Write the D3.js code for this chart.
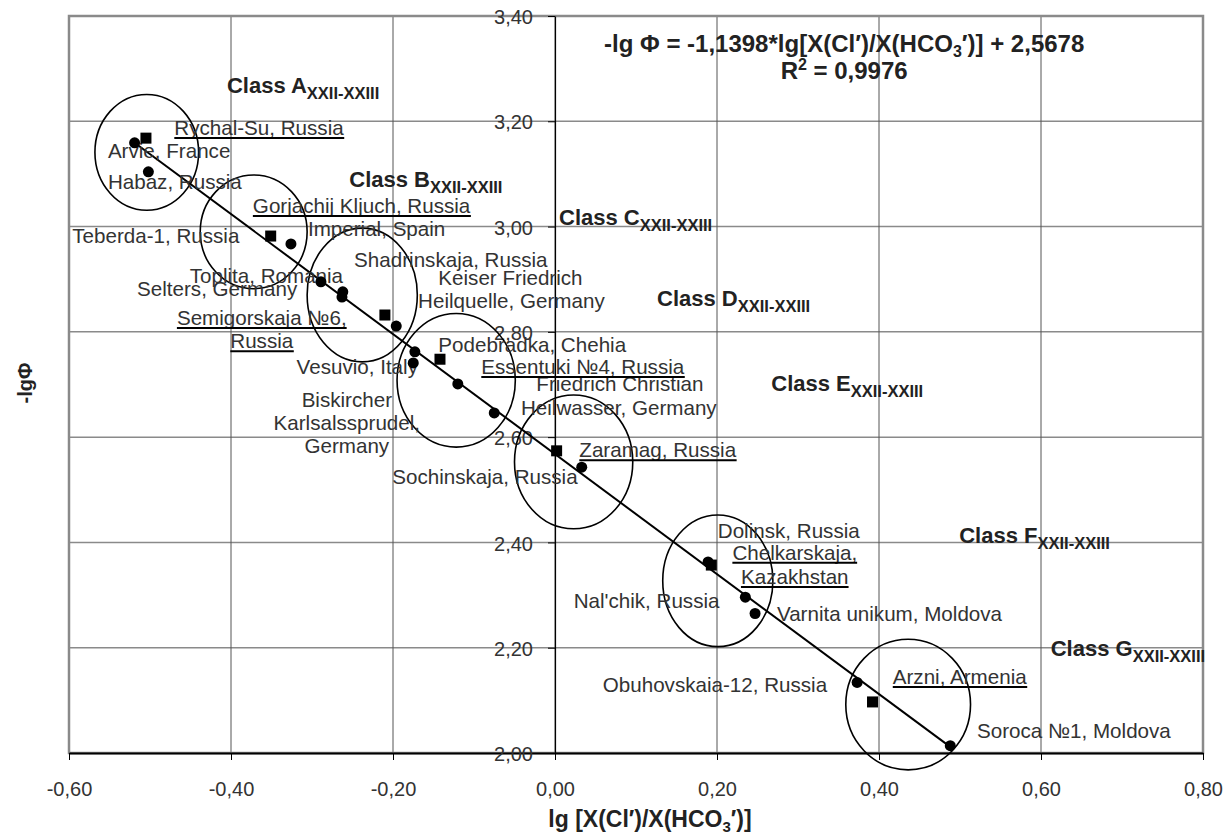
<!DOCTYPE html>
<html>
<head>
<meta charset="utf-8">
<script src="https://cdn.jsdelivr.net/npm/d3@7"></script>
<style>
  body { margin: 0; background: #fff; }
  svg { display: block; font-family: Arial, "Liberation Sans", sans-serif; }
</style>
</head>
<body>
<svg id="chart"></svg>
<script>
const width = 1229;
const height = 838;

// measured points (lg ratio, -lg phi)
const circleX = [-0.519, -0.502, -0.326, -0.289, -0.262, -0.263, -0.196, -0.173, -0.175, -0.120, -0.075, 0.033, 0.189, 0.235, 0.247, 0.373, 0.488];
const circleY = [3.159, 3.104, 2.967, 2.895, 2.876, 2.866, 2.811, 2.762, 2.741, 2.701, 2.646, 2.543, 2.363, 2.296, 2.265, 2.134, 2.014];
const squareX = [-0.505, -0.351, -0.210, -0.142, 0.002, 0.193, 0.392];
const squareY = [3.168, 2.982, 2.832, 2.748, 2.574, 2.357, 2.097];

// trendline from the chart
const slope = -1.1398;
const intercept = 2.5678;

// class clusters (ellipses)
const classNames = ['A', 'B', 'C', 'D', 'E', 'F', 'G'];
const classCX = [-0.504, -0.372, -0.238, -0.122, 0.023, 0.201, 0.436];
const classCY = [3.141, 2.990, 2.870, 2.708, 2.553, 2.327, 2.092];
const classRX = [0.064, 0.066, 0.068, 0.073, 0.073, 0.068, 0.077];
const classRY = [0.110, 0.108, 0.127, 0.127, 0.127, 0.125, 0.124];
const classLabelX = [-0.405, -0.254, 0.005, 0.126, 0.267, 0.499, 0.612];
const classLabelY = [3.254, 3.075, 3.003, 2.849, 2.688, 2.399, 2.184];

// spring names
const labelText = ['Rychal-Su, Russia', 'Arvie, France', 'Habaz, Russia', 'Gorjachij Kljuch, Russia',
  'Imperial, Spain', 'Teberda-1, Russia', 'Shadrinskaja, Russia', 'Toplita, Romania', 'Keiser Friedrich',
  'Selters, Germany', 'Heilquelle, Germany', 'Semigorskaja №6,', 'Russia', 'Podebradka, Chehia',
  'Vesuvio, Italy', 'Essentuki №4, Russia', 'Friedrich Christian', 'Biskircher', 'Heilwasser, Germany',
  'Karlsalssprudel,', 'Germany', 'Zaramag, Russia', 'Sochinskaja, Russia', 'Dolinsk, Russia',
  'Chelkarskaja,', 'Kazakhstan', "Nal'chik, Russia", 'Varnita unikum, Moldova', 'Arzni, Armenia',
  'Obuhovskaia-12, Russia', 'Soroca №1, Moldova'];
const labelX = [-0.470, -0.552, -0.552, -0.373, -0.305, -0.596, -0.248, -0.451, -0.144, -0.516, -0.169,
  -0.362, -0.362, -0.144, -0.319, -0.091, -0.023, -0.257, -0.042, -0.257, -0.257, 0.030, -0.201, 0.201,
  0.296, 0.296, 0.023, 0.274, 0.417, 0.059, 0.521];
const labelY = [3.174, 3.130, 3.071, 3.026, 2.982, 2.969, 2.923, 2.893, 2.889, 2.868, 2.845, 2.813, 2.769,
  2.762, 2.720, 2.720, 2.688, 2.657, 2.642, 2.614, 2.570, 2.562, 2.511, 2.408, 2.367, 2.321, 2.275, 2.251,
  2.131, 2.116, 2.028];
const labelCentered = [0,0,0,0,0,0,0,0,0,0,0,1,1,0,0,0,0,1,0,1,1,0,0,0,1,1,0,0,0,0,0];
const labelUnderline = [1,0,0,1,0,0,0,0,0,0,0,1,1,0,0,1,0,0,0,0,0,1,0,0,1,1,0,0,1,0,0];

const xTickValues = [-0.6, -0.4, -0.2, 0, 0.2, 0.4, 0.6, 0.8];
const yTickValues = [2.0, 2.2, 2.4, 2.6, 2.8, 3.0, 3.2, 3.4];

const loc = d3.formatLocale({decimal: ',', thousands: ' ', grouping: [3], currency: ['', ''], minus: '-'});
const fmt = loc.format('.2f');

const svg = d3.select('#chart').attr('width', width).attr('height', height);

const x = d3.scaleLinear().domain([-0.6, 0.8]).range([69, 1203]);
const y = d3.scaleLinear().domain([2.0, 3.4]).range([753, 16]);

// grid
svg.append('g')
  .selectAll('line')
  .data(yTickValues)
  .enter()
  .append('line')
    .attr('x1', x(-0.6)).attr('x2', x(0.8))
    .attr('y1', d => y(d)).attr('y2', d => y(d))
    .style('stroke', '#8a8a8a')
    .style('stroke-width', 1.5);

svg.append('g')
  .selectAll('line')
  .data(xTickValues)
  .enter()
  .append('line')
    .attr('x1', d => x(d)).attr('x2', d => x(d))
    .attr('y1', y(2.0)).attr('y2', y(3.4))
    .style('stroke', '#555')
    .style('stroke-width', 1);

svg.append('rect')
  .attr('x', x(-0.6)).attr('y', y(3.4))
  .attr('width', x(0.8) - x(-0.6)).attr('height', y(2.0) - y(3.4))
  .style('fill', 'none')
  .style('stroke', '#8a8a8a')
  .style('stroke-width', 2.5);

// axes
const xAxis = svg.append('g')
  .attr('transform', `translate(0,${y(2.0)})`)
  .call(d3.axisBottom(x).tickValues(xTickValues).tickFormat(fmt).tickSize(7).tickPadding(22).tickSizeOuter(0));
const yAxis = svg.append('g')
  .attr('transform', `translate(${x(0)},0)`)
  .call(d3.axisLeft(y).tickValues(yTickValues).tickFormat(fmt).tickSize(7).tickPadding(15).tickSizeOuter(0));

[xAxis, yAxis].forEach(a => {
  a.selectAll('text').style('font-size', '20px').style('fill', '#333').style('font-family', 'Arial, "Liberation Sans", sans-serif');
  a.selectAll('line').style('stroke', '#000');
  a.select('.domain').style('stroke', '#000').style('stroke-width', 1.2);
});
xAxis.select('.domain').style('stroke-width', 2);
yAxis.selectAll('text').attr('dy', '0.38em');

// trendline
svg.append('line')
  .attr('x1', x(d3.min(circleX))).attr('y1', y(slope * d3.min(circleX) + intercept))
  .attr('x2', x(d3.max(circleX))).attr('y2', y(slope * d3.max(circleX) + intercept))
  .style('stroke', '#000')
  .style('stroke-width', 2);

// ellipses
svg.append('g')
  .selectAll('ellipse')
  .data(classNames)
  .enter()
  .append('ellipse')
    .attr('cx', (d, i) => x(classCX[i]))
    .attr('cy', (d, i) => y(classCY[i]))
    .attr('rx', (d, i) => x(classCX[i] + classRX[i]) - x(classCX[i]))
    .attr('ry', (d, i) => y(classCY[i]) - y(classCY[i] + classRY[i]))
    .style('fill', 'none')
    .style('stroke', '#000')
    .style('stroke-width', 1.6);

// labels
const labels = svg.append('g')
  .selectAll('text')
  .data(labelText)
  .enter()
  .append('text')
    .attr('x', (d, i) => x(labelX[i]))
    .attr('y', (d, i) => y(labelY[i]))
    .attr('text-anchor', (d, i) => labelCentered[i] ? 'middle' : 'start')
    .style('font-size', '20.6px')
    .style('fill', '#333')
    .text(d => d);

labels.each(function(d, i) {
  if (!labelUnderline[i]) return;
  const b = this.getBBox();
  svg.append('line')
    .attr('x1', b.x).attr('x2', b.x + b.width)
    .attr('y1', y(labelY[i]) + 3).attr('y2', y(labelY[i]) + 3)
    .style('stroke', '#000')
    .style('stroke-width', 2);
});

// points
svg.append('g')
  .selectAll('circle')
  .data(circleX)
  .enter()
  .append('circle')
    .attr('cx', d => x(d))
    .attr('cy', (d, i) => y(circleY[i]))
    .attr('r', 5.5)
    .style('fill', '#000');

svg.append('g')
  .selectAll('rect')
  .data(squareX)
  .enter()
  .append('rect')
    .attr('x', d => x(d) - 5.5)
    .attr('y', (d, i) => y(squareY[i]) - 5.5)
    .attr('width', 11).attr('height', 11)
    .style('fill', '#000');

// class names
const cls = svg.append('g')
  .selectAll('text')
  .data(classNames)
  .enter()
  .append('text')
    .attr('x', (d, i) => x(classLabelX[i]))
    .attr('y', (d, i) => y(classLabelY[i]))
    .style('font-weight', 'bold')
    .style('font-size', '22px')
    .style('fill', '#222');
cls.append('tspan').text(d => 'Class ' + d);
cls.append('tspan').attr('dy', 6).style('font-size', '16.5px').text('XXII-XXIII');

// trendline equation
const eq = svg.append('text')
  .attr('x', x(0.357)).attr('y', y(3.332))
  .attr('text-anchor', 'middle')
  .style('font-weight', 'bold')
  .style('font-size', '24px')
  .style('fill', '#222');
eq.append('tspan').text('-lg Φ = -1,1398*lg[X(Cl′)/X(HCO');
eq.append('tspan').attr('dy', 5).style('font-size', '16px').text('3');
eq.append('tspan').attr('dy', -5).text('′)] + 2,5678');

const r2 = svg.append('text')
  .attr('x', x(0.357)).attr('y', y(3.280))
  .attr('text-anchor', 'middle')
  .style('font-weight', 'bold')
  .style('font-size', '24px')
  .style('fill', '#222');
r2.append('tspan').text('R');
r2.append('tspan').attr('dy', -9).style('font-size', '16px').text('2');
r2.append('tspan').attr('dy', 9).text(' = 0,9976');

// axis titles
const xt = svg.append('text')
  .attr('x', 650).attr('y', 827)
  .attr('text-anchor', 'middle')
  .style('font-weight', 'bold')
  .style('font-size', '23px')
  .style('fill', '#222');
xt.append('tspan').text('lg [X(Cl′)/X(HCO');
xt.append('tspan').attr('dy', 5).style('font-size', '15px').text('3');
xt.append('tspan').attr('dy', -5).text('′)]');

svg.append('text')
  .attr('transform', 'translate(32,383) rotate(-90)')
  .attr('text-anchor', 'middle')
  .style('font-weight', 'bold')
  .style('font-size', '20px')
  .style('fill', '#222')
  .text('-lgΦ');
</script>
</body>
</html>
